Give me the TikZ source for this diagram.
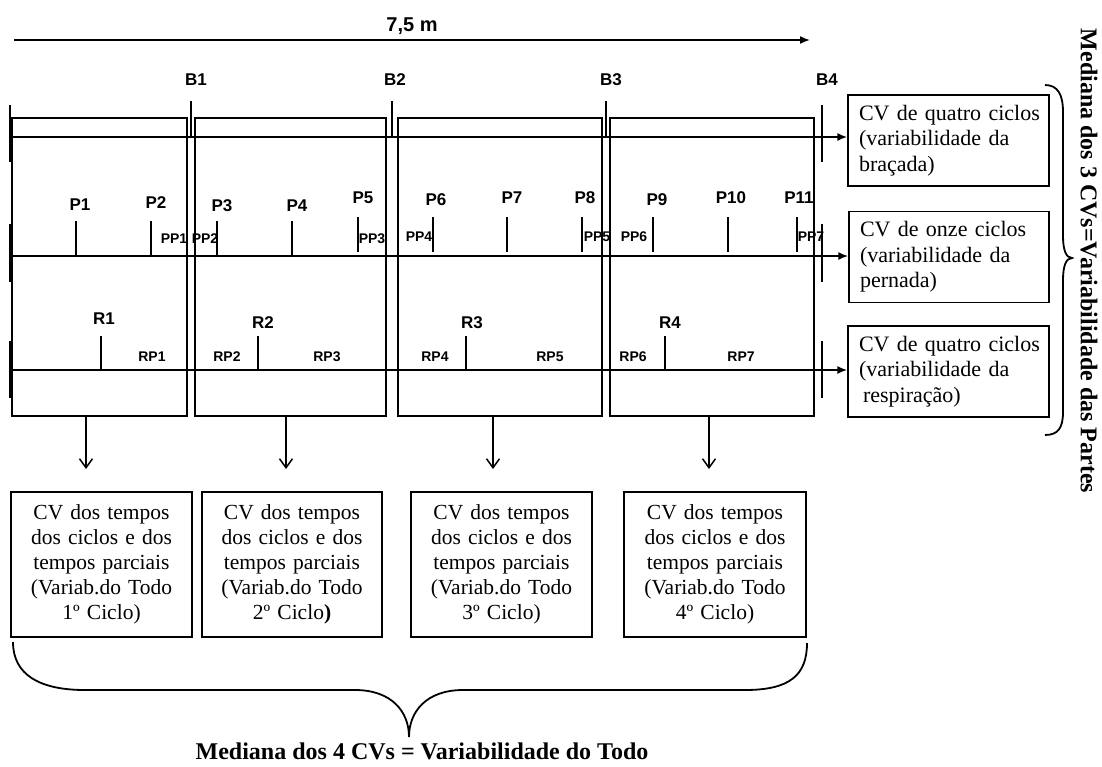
\documentclass[tikz,border=0pt]{standalone}
\usepackage{fontspec}
\setmainfont{Liberation Serif}
\newfontfamily\arialf{Liberation Sans}
\usetikzlibrary{arrows.meta}
\begin{document}
\begin{tikzpicture}[x=1pt,y=-1pt,
  lab/.style={font=\arialf\bfseries\fontsize{17}{20}\selectfont, inner sep=0pt},
  slab/.style={font=\arialf\bfseries\fontsize{14}{16}\selectfont, inner sep=0pt},
  segbox/.style={draw, line width=1.5pt, inner sep=0pt, minimum height=298pt},
  rbox/.style={draw, line width=1.2pt, inner xsep=11pt, inner ysep=0pt, text width=179pt, minimum height=91pt, align=left, font=\fontsize{22}{25.5}\selectfont},
  bbox/.style={draw, line width=1.2pt, inner xsep=4pt, inner ysep=0pt, text width=173pt, minimum height=145pt, align=center, font=\fontsize{21.5}{25}\selectfont},
  rowline/.style={line width=2pt, -{Latex[length=10pt,width=8pt]}},
  tick/.style={line width=1.3pt},
  downarr/.style={line width=1.5pt, -{Straight Barb[length=9pt,width=13pt,line width=1.5pt]}},
  brace/.style={line width=1.8pt},
  bigtxt/.style={font=\bfseries\fontsize{24}{28}\selectfont, inner sep=0pt}
]
\useasboundingbox (0,0) rectangle (1102,766);

% top arrow
\coordinate (ta) at (14,40);
\coordinate (tb) at (810,40);
\draw[line width=1.6pt, -{Latex[length=10pt,width=8pt]}] (ta) -- (tb);
\node[lab, font=\arialf\bfseries\fontsize{20}{22}\selectfont] (dist) at (412,26) {7,5 m};

% B labels
\node[lab] (B1) at (196,80) {B1};
\node[lab] (B2) at (395,80) {B2};
\node[lab] (B3) at (611,80) {B3};
\node[lab] (B4) at (827,80) {B4};
\draw[tick] (191,101) -- (191,137);
\draw[tick] (392,101) -- (392,137);
\draw[tick] (606,101) -- (606,137);

% segment boxes
\node[segbox, minimum width=175pt] (seg1) at (99.5,267) {};
\node[segbox, minimum width=191pt] (seg2) at (290.5,267) {};
\node[segbox, minimum width=204pt] (seg3) at (500,267) {};
\node[segbox, minimum width=204pt] (seg4) at (712,267) {};

% right boxes
\node[rbox] (boxA) at (948.5,140.5) {\mbox{CV de quatro ciclos}\\\mbox{(variabilidade da}\\\mbox{braçada)}};
\node[rbox, minimum width=200pt, text width=178pt] (boxB) at (949,257) {\mbox{CV de onze ciclos}\\\mbox{(variabilidade da}\\\mbox{pernada)}};
\node[rbox] (boxC) at (948.5,371.5) {\mbox{CV de quatro ciclos}\\\mbox{(variabilidade da}\\\mbox{\hspace{4pt}respiração)}};

% row lines
\coordinate (r1s) at (10,137);
\coordinate (r2s) at (10,256);
\coordinate (r3s) at (10,370);
\draw[rowline] (r1s) -- (r1s -| boxA.west);
\draw[rowline] (r2s) -- (r2s -| boxB.west);
\draw[rowline] (r3s) -- (r3s -| boxC.west);

% end ticks
\foreach \xx in {10,822}{
  \draw[tick] (\xx,105) -- (\xx,162);
  \draw[tick] (\xx,224) -- (\xx,282);
  \draw[tick] (\xx,341) -- (\xx,398);
}

% P ticks and labels
\foreach \xx in {76,151,217,292}{ \draw[tick] (\xx,221) -- (\xx,256); }
\foreach \xx in {358,433,507,582,653,728,797}{ \draw[tick] (\xx,217) -- (\xx,252); }
\node[lab] (P1) at (80,205) {P1};
\node[lab] (P2) at (156,203) {P2};
\node[lab] (P3) at (222,206) {P3};
\node[lab] (P4) at (297,206) {P4};
\node[lab] (P5) at (363,198) {P5};
\node[lab] (P6) at (436,200) {P6};
\node[lab] (P7) at (512,198) {P7};
\node[lab] (P8) at (585,198) {P8};
\node[lab] (P9) at (657,200) {P9};
\node[lab] (P10) at (731,198) {P10};
\node[lab] (P11) at (799,198) {P11};

\node[slab] (PP1) at (174,239) {PP1};
\node[slab] (PP2) at (205,239) {PP2};
\node[slab] (PP3) at (372,239) {PP3};
\node[slab] (PP4) at (419,237) {PP4};
\node[slab] (PP5) at (597,237) {PP5};
\node[slab] (PP6) at (634,237) {PP6};
\node[slab] (PP7) at (811,237) {PP7};

% R ticks and labels
\foreach \xx in {101,258,466,665}{ \draw[tick] (\xx,336) -- (\xx,370); }
\node[lab] (R1) at (104,319) {R1};
\node[lab] (R2) at (263,323) {R2};
\node[lab] (R3) at (472,323) {R3};
\node[lab] (R4) at (670,323) {R4};

\node[slab] (RP1) at (152,357) {RP1};
\node[slab] (RP2) at (227,357) {RP2};
\node[slab] (RP3) at (327,357) {RP3};
\node[slab] (RP4) at (435,357) {RP4};
\node[slab] (RP5) at (550,357) {RP5};
\node[slab] (RP6) at (633,357) {RP6};
\node[slab] (RP7) at (741,357) {RP7};

% bottom boxes
\node[bbox, minimum width=181pt] (bb1) at (101.5,564.5) {\mbox{CV dos tempos}\\\mbox{dos ciclos e dos}\\\mbox{tempos parciais}\\\mbox{(Variab.do Todo}\\\mbox{1º Ciclo)}};
\node[bbox, minimum width=180pt, text width=172pt] (bb2) at (292,564.5) {\mbox{CV dos tempos}\\\mbox{dos ciclos e dos}\\\mbox{tempos parciais}\\\mbox{(Variab.do Todo}\\\mbox{2º Ciclo\textbf{)}}};
\node[bbox, minimum width=181pt] (bb3) at (501.5,564.5) {\mbox{CV dos tempos}\\\mbox{dos ciclos e dos}\\\mbox{tempos parciais}\\\mbox{(Variab.do Todo}\\\mbox{3º Ciclo)}};
\node[bbox, minimum width=182pt, text width=174pt] (bb4) at (715,564.5) {\mbox{CV dos tempos}\\\mbox{dos ciclos e dos}\\\mbox{tempos parciais}\\\mbox{(Variab.do Todo}\\\mbox{4º Ciclo)}};

% down arrows
\coordinate (d1) at (86,469);
\coordinate (d2) at (286,469);
\coordinate (d3) at (493,469);
\coordinate (d4) at (709,469);
\draw[downarr] (d1 |- seg1.south) -- (d1);
\draw[downarr] (d2 |- seg2.south) -- (d2);
\draw[downarr] (d3 |- seg3.south) -- (d3);
\draw[downarr] (d4 |- seg4.south) -- (d4);

% right brace
\draw[brace] (1045,85) .. controls (1058,85) and (1063,95) .. (1063,112) -- (1063,236)
  .. controls (1063,250) and (1066,258) .. (1072,258)
  .. controls (1066,258) and (1063,266) .. (1063,280) -- (1063,412)
  .. controls (1063,428) and (1058,435) .. (1045,435);
\node[bigtxt, rotate=-90] (vtxt) at (1089,261) {Mediana dos 3 CVs=Variabilidade das Partes};

% bottom brace
\draw[brace] (13,642) .. controls (13,675) and (40,690) .. (85,690) -- (355,690)
  .. controls (392,690) and (409,712) .. (409,737)
  .. controls (409,712) and (426,690) .. (463,690) -- (745,690)
  .. controls (790,690) and (807,675) .. (807,643);
\node[bigtxt] (htxt) at (422,751) {Mediana dos 4 CVs = Variabilidade do Todo};
\end{tikzpicture}
\end{document}
